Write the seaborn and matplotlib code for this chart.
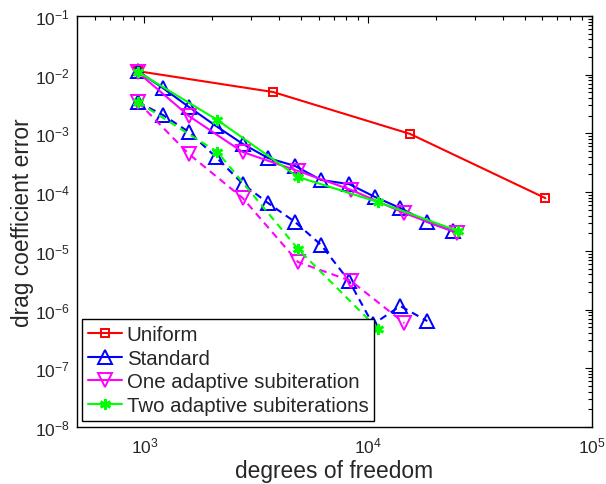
import numpy as np
import pandas as pd
import matplotlib
matplotlib.use("Agg")
import matplotlib.pyplot as plt
from matplotlib.ticker import LogLocator, NullFormatter
import seaborn as sns

# ---------------- data ----------------
uniform_dof = [935, 3760, 15400, 61900]
uniform_err = [1.15e-2, 5.07e-3, 9.8e-4, 7.9e-5]

standard_dof = [935, 1210, 1581, 2089, 2759, 3569, 4714, 6161, 8222, 10748, 13906, 18365, 23990]
standard_err = [1.15e-2, 5.93e-3, 2.82e-3, 1.34e-3, 6.59e-4, 3.81e-4, 2.79e-4,
                1.61e-4, 1.37e-4, 8.25e-5, 5.36e-5, 3.10e-5, 2.17e-5]
standard_dash_dof = [935, 1210, 1581, 2089, 2759, 3569, 4714, 6161, 8222, 10500, 13906, 18365]
standard_dash_err = [3.43e-3, 2.06e-3, 1.06e-3, 3.96e-4, 1.37e-4, 6.52e-5, 3.10e-5,
                     1.26e-5, 3.06e-6, 5.6e-7, 1.15e-6, 6.37e-7]

one_dof = [935, 1581, 2750, 4862, 8390, 14500, 25000]
one_err = [1.10e-2, 1.98e-3, 4.82e-4, 2.29e-4, 1.09e-4, 4.41e-5, 2.01e-5]
one_dash_dof = [935, 1581, 2750, 4862, 8390, 14500]
one_dash_err = [3.43e-3, 4.46e-4, 7.93e-5, 6.44e-6, 3.06e-6, 5.89e-7]

two_dof = [935, 2121, 4862, 11084, 25270]
two_err = [1.12e-2, 1.69e-3, 1.81e-4, 6.78e-5, 2.17e-5]
two_dash_dof = [935, 2121, 4862, 11084]
two_dash_err = [3.43e-3, 4.82e-4, 1.07e-5, 4.65e-7]

labels = ["Uniform", "Standard", "One adaptive subiteration", "Two adaptive subiterations"]

# ---------------- style ----------------
sns.set_style("white")
plt.rcParams["font.family"] = ["Liberation Sans", "DejaVu Sans"]
plt.rcParams["mathtext.fontset"] = "custom"
plt.rcParams["mathtext.rm"] = "Liberation Sans"
plt.rcParams["mathtext.it"] = "Liberation Sans:italic"

fig = plt.figure(figsize=(6.06, 4.85), dpi=100)
ax = fig.add_axes([77 / 606, 1 - 428 / 485, (592 - 77) / 606, (428 - 17) / 485])

asterisk = (6, 2, 0)
dash = (0, (3.5, 2.5))

series = [
    (uniform_dof, uniform_err, "red", "s", labels[0], "-", 6),
    (standard_dof, standard_err, "blue", "^", labels[1], "-", 9.5),
    (one_dof, one_err, "magenta", "v", labels[2], "-", 9.5),
    (two_dof, two_err, "#00ff00", asterisk, labels[3], "-", 8),
    (standard_dash_dof, standard_dash_err, "blue", "^", None, dash, 9.5),
    (one_dash_dof, one_dash_err, "magenta", "v", None, dash, 9.5),
    (two_dash_dof, two_dash_err, "#00ff00", asterisk, None, dash, 8),
]

for xs, ys, col, mk, lab, ls, ms in series:
    df = pd.DataFrame({"dof": xs, "err": ys})
    kw = dict(data=df, x="dof", y="err", color=col, marker=mk, linestyle=ls,
              linewidth=1.5, markersize=ms, markerfacecolor="none" if mk != asterisk else col,
              markeredgecolor=col, markeredgewidth=1.4 if mk != asterisk else 2.0,
              ax=ax, sort=False, estimator=None)
    if lab is not None:
        kw["label"] = lab
    sns.lineplot(**kw)

ax.set_xscale("log")
ax.set_yscale("log")
ax.set_xlim(500, 1e5)
ax.set_ylim(1e-8, 1e-1)

ax.xaxis.set_major_locator(LogLocator(base=10, numticks=20))
ax.xaxis.set_minor_locator(LogLocator(base=10, subs=np.arange(2, 10), numticks=100))
ax.yaxis.set_major_locator(LogLocator(base=10, numticks=20))
ax.yaxis.set_minor_locator(LogLocator(base=10, subs=np.arange(2, 10), numticks=100))
ax.xaxis.set_minor_formatter(NullFormatter())
ax.yaxis.set_minor_formatter(NullFormatter())

ax.tick_params(which="both", direction="in", top=True, right=True, labelsize=12.5,
               color="black", width=0.8)
ax.tick_params(which="major", length=5)
ax.tick_params(which="minor", length=3)
ax.tick_params(axis="x", pad=6)
ax.tick_params(axis="y", pad=5)
for sp in ax.spines.values():
    sp.set_color("black")
    sp.set_linewidth(1.0)

ax.set_xlabel("degrees of freedom", fontsize=16.4, labelpad=2.5)
ax.set_ylabel("drag coefficient error", fontsize=16.4, labelpad=1)

leg = ax.legend(loc="lower left", bbox_to_anchor=(0.009, 0.015), fontsize=14.7,
                frameon=True, fancybox=False, framealpha=1, edgecolor="black",
                handlelength=1.7, handletextpad=0.2, borderpad=0.3, labelspacing=0.22,
                borderaxespad=0.0)
leg.get_frame().set_linewidth(1.0)
leg.set_zorder(10)

fig.savefig("out.png", dpi=100)
